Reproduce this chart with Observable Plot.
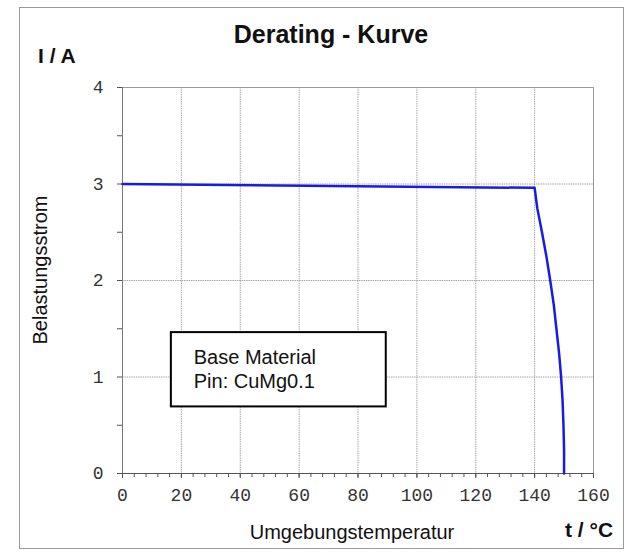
<!DOCTYPE html>
<html>
<head>
<meta charset="utf-8">
<script src="https://cdn.jsdelivr.net/npm/d3@7"></script>
<script src="https://cdn.jsdelivr.net/npm/@observablehq/plot@0.6"></script>
<style>
  body { margin: 0; background: #fff; }
  #wrap { position: relative; width: 631px; height: 552px; font-family: "Liberation Sans", Arial, sans-serif; }
  #border { position: absolute; left: 19px; top: 7px; width: 605px; height: 542px; border: 1px solid #9a9a9a; box-sizing: border-box; }
  .lbl { position: absolute; white-space: nowrap; color: #111; }
  #title { left: 0; width: 662px; text-align: center; top: 20px; font-size: 25px; font-weight: bold; }
  #ylab-unit { left: 38px; top: 44px; font-size: 21px; font-weight: bold; }
  #xlab { left: 0; width: 704px; text-align: center; top: 521px; font-size: 20px; }
  #xlab-unit { left: 565px; top: 518px; font-size: 21px; font-weight: bold; }
  #ylab { left: 40px; top: 270px; font-size: 20px; transform: translate(-50%, -50%) rotate(-90deg); }
  svg { position: absolute; left: 0; top: 0; }
</style>
</head>
<body>
<div id="wrap">
  <div id="border"></div>
</div>
<script>
// Data
const temperature = [0, 140, 140.9, 142.5, 144, 145.3, 146.5, 147.4, 148.3, 149, 149.5, 149.8, 150, 150];
const current     = [3.0, 2.96, 2.75, 2.5, 2.25, 2.0, 1.75, 1.5, 1.25, 1.0, 0.75, 0.5, 0.25, 0];
const xTicks = [0, 20, 40, 60, 80, 100, 120, 140, 160];
const yTicks = [0, 1, 2, 3, 4];
const xMinorTicks = d3.range(0, 161, 4);
const yMinorTicks = [0.5, 1.5, 2.5, 3.5];
const titleText = "Derating - Kurve";
const yUnitText = "I / A";
const yLabelText = "Belastungsstrom";
const xLabelText = "Umgebungstemperatur";
const xUnitText = "t / °C";
const noteLines = ["Base Material", "Pin: CuMg0.1"];
const noteBox = {x1: 16.6, x2: 89.6, y1: 0.69, y2: 1.46};
const noteText = [
  {x: 24.2, y: 1.2, text: noteLines[0]},
  {x: 24.2, y: 0.95, text: noteLines[1]}
];

const data = temperature.map((t, i) => ({t, i: current[i]}));
const mono = "'Liberation Mono', 'Courier New', monospace";
const sans = "'Liberation Sans', Arial, sans-serif";

const chart = Plot.plot({
  width: 631,
  height: 552,
  marginLeft: 122,
  marginRight: 38,
  marginTop: 87,
  marginBottom: 79,
  style: {background: "transparent"},
  x: {domain: [0, 160]},
  y: {domain: [0, 4]},
  marks: [
    Plot.gridX(xTicks, {stroke: "#8a8a8a", strokeOpacity: 0.75, strokeDasharray: "1.5,0.8"}),
    Plot.gridY(yTicks, {stroke: "#8a8a8a", strokeOpacity: 0.75, strokeDasharray: "1.5,0.8"}),
    Plot.frame({stroke: "#9a9a9a"}),
    Plot.axisX(xMinorTicks, {tickSize: 4, text: null, stroke: "#555", label: null}),
    Plot.axisY(yMinorTicks, {tickSize: 5, text: null, stroke: "#555", label: null}),
    Plot.axisX(xTicks, {tickSize: 5, tickPadding: 10, stroke: "#555", fill: "#333", fontFamily: mono, fontSize: 18, label: null, tickFormat: d3.format("d")}),
    Plot.axisY(yTicks, {tickSize: 5, tickPadding: 14, stroke: "#555", fill: "#333", fontFamily: mono, fontSize: 18, label: null, tickFormat: d3.format("d")}),
    Plot.ruleX([0], {stroke: "#777"}),
    Plot.ruleY([0], {stroke: "#555"}),
    Plot.line(data, {x: "t", y: "i", stroke: "#1a1ae6", strokeWidth: 2.5}),
    Plot.rect([noteBox], {x1: "x1", x2: "x2", y1: "y1", y2: "y2", fill: "white", stroke: "#000", strokeWidth: 2}),
    Plot.text(noteText, {x: "x", y: "y", text: "text", textAnchor: "start", fontFamily: sans, fontSize: 20, fill: "#111"})
  ]
});

const wrap = document.getElementById("wrap");
wrap.appendChild(chart);
function addLabel(id, text) {
  const d = document.createElement("div");
  d.className = "lbl";
  d.id = id;
  d.textContent = text;
  wrap.appendChild(d);
}
addLabel("title", titleText);
addLabel("ylab-unit", yUnitText);
addLabel("xlab", xLabelText);
addLabel("xlab-unit", xUnitText);
addLabel("ylab", yLabelText);
</script>
</body>
</html>
